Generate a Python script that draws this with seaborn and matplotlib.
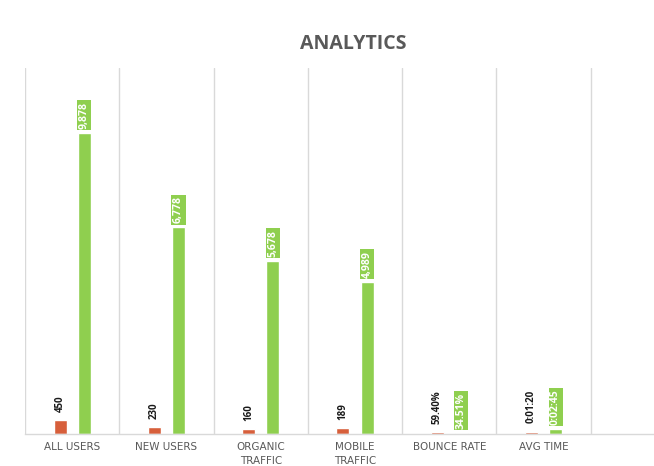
import numpy as np
import pandas as pd
import matplotlib
matplotlib.use("Agg")
import matplotlib.pyplot as plt
import seaborn as sns

# ---- data ----
categories = ["ALL USERS", "NEW USERS", "ORGANIC\nTRAFFIC", "MOBILE\nTRAFFIC", "BOUNCE RATE", "AVG TIME"]
series_names = ["Previous", "Current"]
prev_values = [450, 230, 160, 189, 59.40, 80]
curr_values = [9878, 6778, 5678, 4989, 34.51, 165]
prev_labels = ["450", "230", "160", "189", "59.40%", "0:01:20"]
curr_labels = ["9,878", "6,778", "5,678", "4,989", "34.51%", "0:02:45"]

ORANGE = "#D75F3B"
GREEN = "#8FCF4F"
GRID = "#D9D9D9"
TEXT_GRAY = "#595959"

df = pd.DataFrame({
    "category": categories * 2,
    "series": [series_names[0]] * len(categories) + [series_names[1]] * len(categories),
    "value": prev_values + curr_values,
})

sns.set_theme(style="white")
plt.rcParams["font.family"] = ["Open Sans", "DejaVu Sans"]

W, H = 654, 466
fig = plt.figure(figsize=(W / 100, H / 100), dpi=100)
left, right, top, bottom = 25, 685, 68, 434
ax = fig.add_axes([left / W, (H - bottom) / H, (right - left) / W, (bottom - top) / H])

sns.barplot(data=df, x="category", y="value", hue="series",
            palette=[ORANGE, GREEN], width=0.51, gap=0.46,
            order=categories, hue_order=series_names,
            legend=False, ax=ax, saturation=1)

ax.set_xlim(-0.5, 6.5)
ax.set_ylim(0, 12000)
ax.set_xlabel("")
ax.set_ylabel("")
ax.set_yticks([])

# category gridlines
ax.set_xticks(np.arange(-0.5, 7.0, 1.0), minor=True)
ax.grid(which="minor", axis="x", color=GRID, linewidth=1)
ax.grid(which="major", axis="both", visible=False)
ax.tick_params(axis="x", which="both", length=0)
ax.tick_params(axis="x", which="major", pad=6)
ax.set_xticks(range(len(categories)))
ax.set_xticklabels(categories, fontsize=7.5, color=TEXT_GRAY,
                   family=["DejaVu Sans"], linespacing=1.45)

for s in ["left", "top", "right"]:
    ax.spines[s].set_visible(False)
ax.spines["bottom"].set_color(GRID)
ax.spines["bottom"].set_linewidth(1)

# value labels
for bar, lab in zip(ax.containers[0], prev_labels):
    x = bar.get_x() + bar.get_width() / 2
    y = bar.get_height()
    ax.annotate(lab, (x, y), xytext=(0, 6), textcoords="offset points",
                rotation=90, ha="center", va="bottom", fontsize=7,
                fontweight="bold", color="#1a1a1a")

for bar, lab in zip(ax.containers[1], curr_labels):
    x = bar.get_x() + bar.get_width() / 2
    y = bar.get_height()
    ax.annotate(lab, (x, y), xytext=(0, 3), textcoords="offset points",
                rotation=90, ha="center", va="bottom", fontsize=7.5,
                fontweight="bold", color="white",
                bbox=dict(boxstyle="square,pad=0.15", facecolor=GREEN,
                          edgecolor="none"))

fig.text(353 / W, 1 - 44 / H, "ANALYTICS", ha="center", va="center",
         fontsize=14, fontweight="bold", color=TEXT_GRAY)

fig.savefig("out.png", dpi=100, facecolor="white")
